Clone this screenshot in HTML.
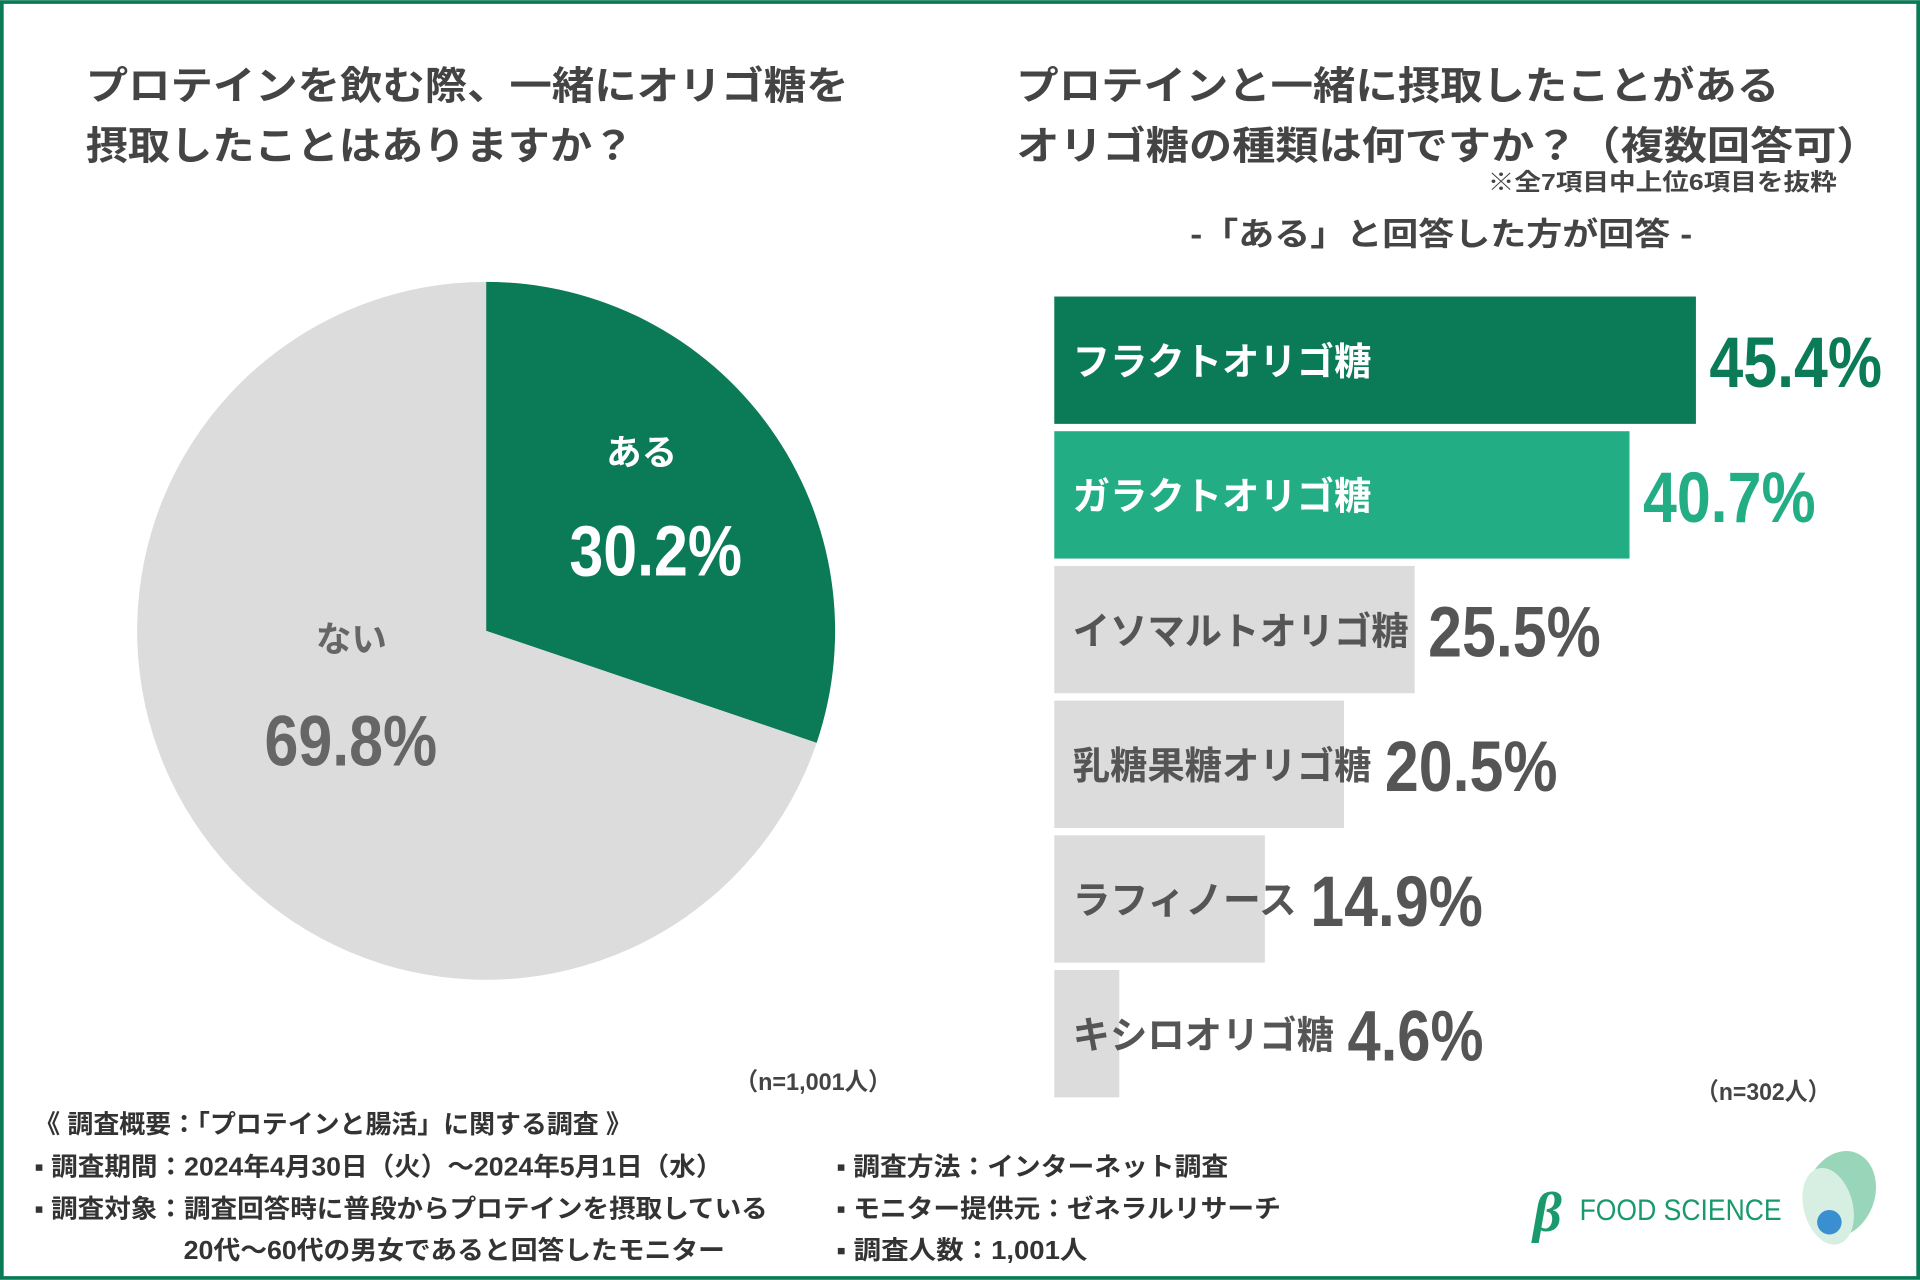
<!DOCTYPE html>
<html><head><meta charset="utf-8"><style>
html,body{margin:0;padding:0;background:#fff;}
svg{display:block;}
text{font-family:"Liberation Sans","Noto Sans CJK JP",sans-serif;font-weight:bold;}
.num{font-family:"Liberation Sans Narrow","Liberation Sans","Noto Sans CJK JP",sans-serif;}
</style></head><body>
<svg id="chart" width="1920" height="1280" viewBox="0 0 1568 1045" xmlns="http://www.w3.org/2000/svg">
<rect x="1.5" y="1.5" width="1565" height="1042" fill="#fff" stroke="#0b7a57" stroke-width="3"/>
<g fill="#444" font-size="32">
<text x="70" y="81" textLength="623" lengthAdjust="spacingAndGlyphs">プロテインを飲む際、一緒にオリゴ糖を</text>
<text x="70" y="130" textLength="448" lengthAdjust="spacingAndGlyphs">摂取したことはありますか？</text>
</g>
<g fill="#444" font-size="32">
<text x="830" y="81" textLength="623" lengthAdjust="spacingAndGlyphs">プロテインと一緒に摂取したことがある</text>
<text x="830" y="130" textLength="705" lengthAdjust="spacingAndGlyphs">オリゴ糖の種類は何ですか？（複数回答可）</text>
</g>
<text x="1215" y="155" font-size="19" fill="#444" textLength="285" lengthAdjust="spacingAndGlyphs">※全7項目中上位6項目を抜粋</text>
<text x="972" y="200" font-size="26" fill="#444" textLength="410" lengthAdjust="spacingAndGlyphs">-「ある」と回答した方が回答 -</text>
<g id="pie"></g>
<text x="524" y="379" text-anchor="middle" font-size="29" fill="#fff">ある</text>
<text id="pv0" class="num" x="465" y="470" font-size="58" fill="#fff" textLength="141" lengthAdjust="spacingAndGlyphs"></text>
<text x="287" y="532" text-anchor="middle" font-size="29" fill="#666">ない</text>
<text id="pv1" class="num" x="216" y="625" font-size="58" fill="#666" textLength="141" lengthAdjust="spacingAndGlyphs"></text>
<text x="600" y="890" font-size="20" fill="#444" textLength="128" lengthAdjust="spacingAndGlyphs">（n=1,001人）</text>
<g id="bars"></g>
<text x="1385" y="898" font-size="20" fill="#444" textLength="110" lengthAdjust="spacingAndGlyphs">（n=302人）</text>
<g fill="#333" font-size="21">
<text x="28" y="925" textLength="488" lengthAdjust="spacingAndGlyphs">《 調査概要：「プロテインと腸活」に関する調査 》</text>
<text x="28" y="960" textLength="562" lengthAdjust="spacingAndGlyphs">▪ 調査期間：2024年4月30日（火）～2024年5月1日（水）</text>
<text x="28" y="994" textLength="599" lengthAdjust="spacingAndGlyphs">▪ 調査対象：調査回答時に普段からプロテインを摂取している</text>
<text x="150" y="1028" textLength="442" lengthAdjust="spacingAndGlyphs">20代～60代の男女であると回答したモニター</text>
<text x="683" y="960" textLength="320" lengthAdjust="spacingAndGlyphs">▪ 調査方法：インターネット調査</text>
<text x="683" y="994" textLength="363" lengthAdjust="spacingAndGlyphs">▪ モニター提供元：ゼネラルリサーチ</text>
<text x="683" y="1028" textLength="205" lengthAdjust="spacingAndGlyphs">▪ 調査人数：1,001人</text>
</g>
<g>
<text x="1252" y="1005" font-size="46" fill="#1a9a6c" font-style="italic" style="font-family:'Liberation Serif',serif">β</text>
<text x="1290" y="996" font-size="24" fill="#1a9a6c" style="font-weight:normal" textLength="165" lengthAdjust="spacingAndGlyphs">FOOD SCIENCE</text>
<ellipse cx="1503" cy="975" rx="28" ry="36" fill="#7fcaa6" opacity="0.8" transform="rotate(20 1503 975)"/>
<ellipse cx="1493" cy="985" rx="20" ry="32" fill="#d7efe3" transform="rotate(-15 1493 985)"/>
<circle cx="1494" cy="998" r="10" fill="#3a8fd0"/>
</g>
</svg>
<script>
const pieLabels = ["ある", "ない"];
const pieValues = [30.2, 69.8];
const pieColors = ["#0b7a57", "#dcdcdc"];
const barCategories = ["フラクトオリゴ糖","ガラクトオリゴ糖","イソマルトオリゴ糖","乳糖果糖オリゴ糖","ラフィノース","キシロオリゴ糖"];
const barValues = [45.4, 40.7, 25.5, 20.5, 14.9, 4.6];
const barFill = ["#0b7a57","#22ad85","#dcdcdc","#dcdcdc","#dcdcdc","#dcdcdc"];
const barLabelColor = ["#fff","#fff","#555","#555","#555","#555"];
const barValueColor = ["#0b7a57","#22ad85","#555","#555","#555","#555"];

const NS = "http://www.w3.org/2000/svg";
function mk(tag, attrs, parent){const e=document.createElementNS(NS,tag);for(const k in attrs)e.setAttribute(k,attrs[k]);parent.appendChild(e);return e;}

const cx=397, cy=515, R=285;
const total = pieValues.reduce((a,b)=>a+b,0);
function ang(v){return v/total*2*Math.PI;}
const pie=document.getElementById('pie');
let acc=0;
pieValues.forEach((v,i)=>{
  const a0=ang(acc), a1=ang(acc+v); acc+=v;
  const x0=cx+R*Math.sin(a0), y0=cy-R*Math.cos(a0);
  const x1=cx+R*Math.sin(a1), y1=cy-R*Math.cos(a1);
  const large=(a1-a0)>Math.PI?1:0;
  const p=mk('path',{d:`M${cx},${cy} L${x0},${y0} A${R},${R} 0 ${large} 1 ${x1},${y1} Z`,fill:pieColors[i]},pie);
  
  
});
document.getElementById('pv0').textContent=pieValues[0].toFixed(1)+'%';
document.getElementById('pv1').textContent=pieValues[1].toFixed(1)+'%';

const x0=861, pxPer=(1385-861)/45.4, top0=242, step=110, bh=104;
function xs(v){return x0+v*pxPer;}
const bars=document.getElementById('bars');
barValues.forEach((v,i)=>{
  const y=top0+i*step;
  const r=mk('rect',{x:x0,y:y,width:xs(v)-x0,height:bh,fill:barFill[i]},bars);
  
  
  const t=mk('text',{x:876,y:y+bh/2+12,'font-size':31,fill:barLabelColor[i]},bars);
  t.textContent=barCategories[i];
  
  
  let lw=t.getComputedTextLength();
  if(lw>barCategories[i].length*30.5){lw=barCategories[i].length*30.5;t.setAttribute('textLength',lw);t.setAttribute('lengthAdjust','spacingAndGlyphs');}
  const lx=Math.max(xs(v)+11, 876+lw+11);
  const s=v.toFixed(1)+'%';
  const vw=(s.length-1)*30+21;
  const vt=mk('text',{x:lx,y:y+bh/2+22,'font-size':58,fill:barValueColor[i],class:'num',textLength:vw,lengthAdjust:'spacingAndGlyphs'},bars);
  vt.textContent=s;
  
  
});
</script>
</body></html>
